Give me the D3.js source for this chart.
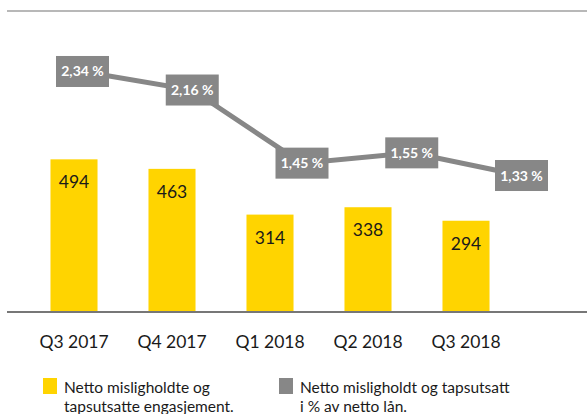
<!DOCTYPE html>
<html>
<head>
<meta charset="utf-8">
<script src="https://cdn.jsdelivr.net/npm/d3@7"></script>
<style>
  body { margin: 0; background: #fff; }
  text { font-family: Lato, "Open Sans", sans-serif; }
</style>
</head>
<body>
<div id="container"></div>
<script>
// data
let quarters = ["Q3 2017", "Q4 2017", "Q1 2018", "Q2 2018", "Q3 2018"];
let nettoValues = [494, 463, 314, 338, 294];
let pctValues = [2.34, 2.16, 1.45, 1.55, 1.33];
let pctLabels = ["2,34 %", "2,16 %", "1,45 %", "1,55 %", "1,33 %"];
let legendLabels = [
  ["Netto misligholdte og", "tapsutsatte engasjement."],
  ["Netto misligholdt og tapsutsatt", "i % av netto lån."]
];

let w = 587;
let h = 414;
let baseY = 311;

let svg = d3.select("#container")
  .append("svg")
  .attr("width", w)
  .attr("height", h)
  .style("display", "block");

// top rule
svg.append("line")
  .attr("x1", 7).attr("x2", w)
  .attr("y1", 11).attr("y2", 11)
  .attr("stroke", "#a0a0a0")
  .attr("stroke-width", 1.5);

// scales
let xScale = d3.scaleBand().domain(quarters).range([25, 515]).paddingInner(0.52).paddingOuter(0.26);
let yScale = d3.scaleLinear().domain([0, 1000]).range([baseY, 4]);
let xLine = d3.scalePoint().domain(quarters).range([82.5, 521.5]);
let yLine = d3.scaleLinear().domain([0, 3]).range([312.5, 3.5]);

// bars
let bars = svg.selectAll(".bar").data(quarters).enter().append("g").attr("class", "bar");
bars.append("rect")
  .attr("x", d => xScale(d))
  .attr("y", (d, i) => yScale(nettoValues[i]))
  .attr("width", xScale.bandwidth())
  .attr("height", (d, i) => baseY - yScale(nettoValues[i]))
  .attr("fill", "#ffd400");
bars.append("text")
  .attr("x", d => xScale(d) + xScale.bandwidth() / 2)
  .attr("y", (d, i) => yScale(nettoValues[i]) + 29)
  .attr("text-anchor", "middle")
  .attr("font-size", 17.5)
  .attr("fill", "#1a1a1a")
  .text((d, i) => nettoValues[i]);

// axis line
svg.append("line")
  .attr("x1", 7).attr("x2", w)
  .attr("y1", baseY + 1).attr("y2", baseY + 1)
  .attr("stroke", "#777")
  .attr("stroke-width", 2);

// x labels
svg.selectAll(".xlabel").data(quarters).enter().append("text")
  .attr("class", "xlabel")
  .attr("x", d => xScale(d) + xScale.bandwidth() / 2)
  .attr("y", 348)
  .attr("text-anchor", "middle")
  .attr("font-size", 17.5)
  .attr("fill", "#1a1a1a")
  .text(d => d);

// line
let line = d3.line()
  .x((d, i) => xLine(quarters[i]))
  .y(d => yLine(d));
svg.append("path")
  .datum(pctValues)
  .attr("d", line)
  .attr("fill", "none")
  .attr("stroke", "#878787")
  .attr("stroke-width", 5);

let boxes = svg.selectAll(".pct").data(quarters).enter().append("g").attr("class", "pct")
  .attr("transform", (d, i) => "translate(" + xLine(d) + "," + yLine(pctValues[i]) + ")");
boxes.append("rect")
  .attr("x", -26.5).attr("y", -15.5)
  .attr("width", 53).attr("height", 31)
  .attr("fill", "#878787");
boxes.append("text")
  .attr("x", 0).attr("y", 5)
  .attr("text-anchor", "middle")
  .attr("font-size", 14)
  .attr("font-weight", "bold")
  .attr("fill", "#fff")
  .text((d, i) => pctLabels[i]);

// legend
let legendColors = ["#ffd400", "#878787"];
let legendX = [43, 279];
let legend = svg.selectAll(".legend").data(legendLabels).enter().append("g").attr("class", "legend")
  .attr("transform", (d, i) => "translate(" + legendX[i] + ",378)");
legend.append("rect")
  .attr("width", 14).attr("height", 16)
  .attr("fill", (d, i) => legendColors[i]);
legend.append("text")
  .attr("x", 21).attr("y", 15)
  .attr("font-size", 15.5)
  .attr("fill", "#1a1a1a")
  .selectAll("tspan").data(d => d).enter().append("tspan")
  .attr("x", 21)
  .attr("dy", (d, i) => i == 0 ? 0 : 18.5)
  .text(d => d);
</script>
</body>
</html>
